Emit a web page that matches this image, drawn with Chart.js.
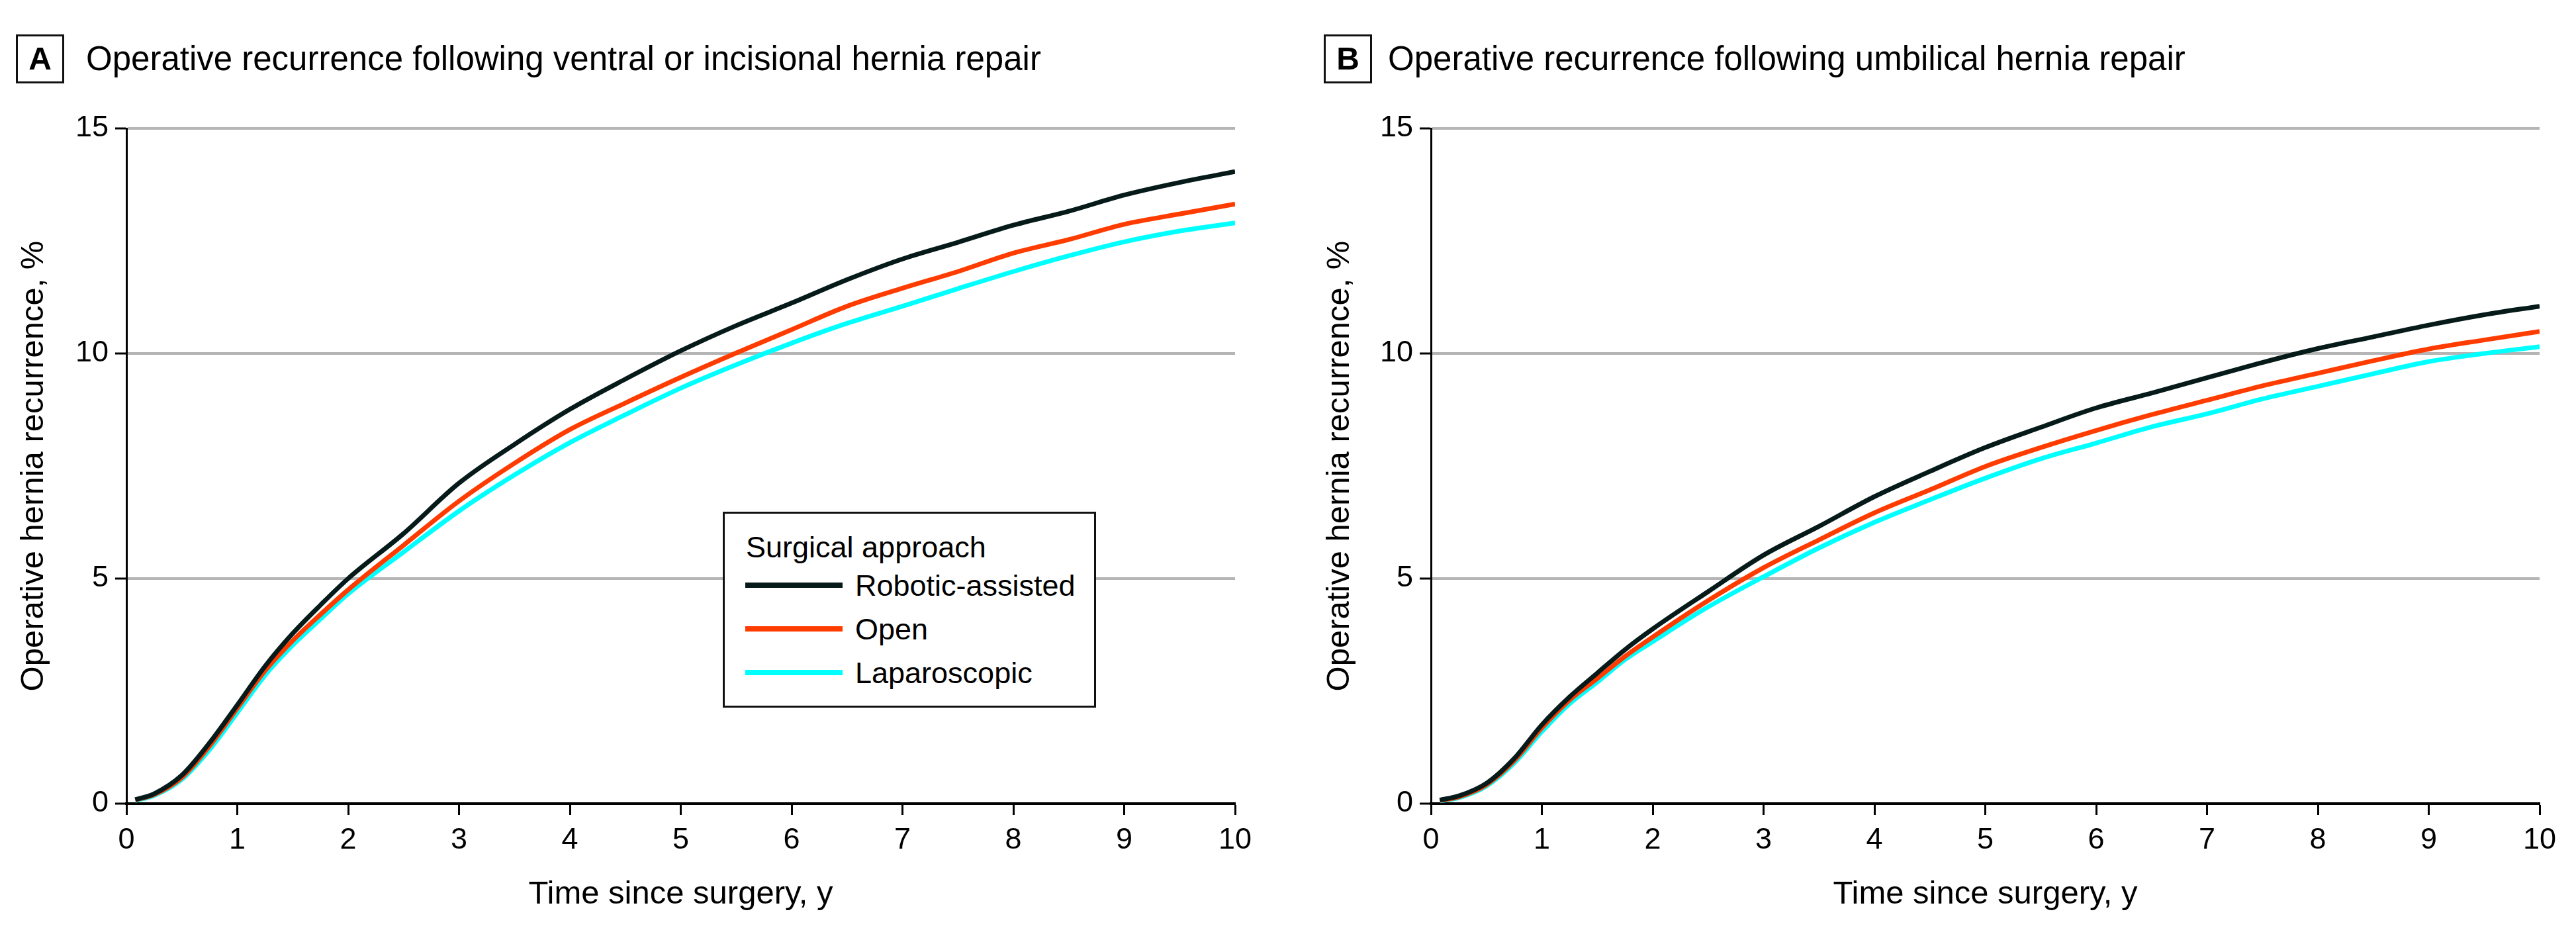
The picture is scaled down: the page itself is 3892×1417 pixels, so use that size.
<!DOCTYPE html>
<html>
<head>
<meta charset="utf-8">
<script src="https://cdn.jsdelivr.net/npm/chart.js@4.4.1/dist/chart.umd.min.js"></script>
<style>
  html, body { margin: 0; padding: 0; background: #fff; }
  body { width: 3892px; height: 1417px; position: relative; overflow: hidden;
         font-family: "Liberation Sans", Arial, sans-serif; color: #000; }
  .panel { position: absolute; top: 0; width: 1946px; height: 1417px; }
  .tag { position: absolute; top: 52px; width: 73px; height: 74px; box-sizing: border-box;
         border: 3px solid #111; font-size: 48px; font-weight: bold; line-height: 68px; text-align: center; }
  .title { position: absolute; top: 63px; font-size: 51px; line-height: 51px; white-space: nowrap; }
  #legend { position: absolute; left: 1092px; top: 773px; width: 564px; height: 296px;
            box-sizing: border-box; border: 3px solid #111; background: #fff; }
  #legend .ltitle, #legend .ltext { position: absolute; font-size: 45px; line-height: 45px; white-space: nowrap; }
  #legend .swatch { position: absolute; left: 31px; width: 147px; height: 8px; }
</style>
</head>
<body>

<div class="panel" style="left:0"><canvas id="chartA"></canvas></div>
<div class="panel" style="left:1946px"><canvas id="chartB"></canvas></div>

<div class="tag" style="left:24px">A</div>
<div class="title" style="left:130px">Operative recurrence following ventral or incisional hernia repair</div>
<div class="tag" style="left:2000px">B</div>
<div class="title" style="left:2097px">Operative recurrence following umbilical hernia repair</div>

<div id="legend"></div>

<script>
// data (cumulative operative recurrence, %)
const timeYears = [0.08, 0.25, 0.5, 0.75, 1, 1.25, 1.5, 1.75, 2, 2.5, 3, 3.5, 4, 4.5, 5, 5.5, 6, 6.5, 7, 7.5, 8, 8.5, 9, 9.5, 10]

const seriesNames = ["Robotic-assisted", "Open", "Laparoscopic"]
const seriesColors = ["#061a1a", "#ff3c00", "#00ffff"]

// panel A: ventral or incisional
const ventralRobotic = [0.09, 0.22, 0.63, 1.35, 2.19, 3.05, 3.78, 4.41, 5.0, 6.0, 7.12, 7.98, 8.76, 9.43, 10.06, 10.62, 11.12, 11.64, 12.1, 12.47, 12.85, 13.16, 13.52, 13.8, 14.04]
const ventralOpen = [0.08, 0.2, 0.58, 1.28, 2.12, 2.95, 3.62, 4.2, 4.75, 5.74, 6.72, 7.56, 8.31, 8.9, 9.47, 10.01, 10.53, 11.05, 11.45, 11.82, 12.23, 12.53, 12.87, 13.1, 13.32]
const ventralLap = [0.07, 0.18, 0.54, 1.2, 2.02, 2.85, 3.52, 4.1, 4.66, 5.59, 6.5, 7.3, 8.02, 8.64, 9.23, 9.75, 10.23, 10.67, 11.05, 11.44, 11.82, 12.17, 12.48, 12.72, 12.9]

// panel B: umbilical
const umbilicalRobotic = [0.08, 0.17, 0.45, 1.0, 1.75, 2.37, 2.9, 3.42, 3.88, 4.71, 5.52, 6.16, 6.82, 7.38, 7.91, 8.36, 8.79, 9.12, 9.46, 9.8, 10.11, 10.37, 10.63, 10.86, 11.05]
const umbilicalOpen = [0.07, 0.15, 0.42, 0.95, 1.68, 2.3, 2.78, 3.27, 3.7, 4.51, 5.24, 5.86, 6.46, 6.97, 7.49, 7.91, 8.29, 8.64, 8.96, 9.28, 9.56, 9.84, 10.1, 10.3, 10.49]
const umbilicalLap = [0.06, 0.13, 0.39, 0.9, 1.6, 2.22, 2.7, 3.2, 3.6, 4.37, 5.04, 5.68, 6.25, 6.75, 7.23, 7.66, 8.01, 8.37, 8.66, 8.99, 9.27, 9.55, 9.82, 10.0, 10.15]

const xTicks = [0, 1, 2, 3, 4, 5, 6, 7, 8, 9, 10]
const yTicks = [0, 5, 10, 15]

const fontFamily = '"Liberation Sans", Arial, sans-serif'

function toPoints(values) {
  return values.map((v, i) => ({ x: timeYears[i], y: v }))
}

function makePanel(canvasId, seriesList, yAxisWidth, yTitlePad, rightPad) {
  const ctx = document.getElementById(canvasId).getContext("2d")
  return new Chart(ctx, {
    type: "line",
    data: {
      datasets: seriesList.map((values, i) => ({
        label: seriesNames[i],
        data: toPoints(values),
        borderColor: seriesColors[i],
        backgroundColor: seriesColors[i],
        borderWidth: 7,
        pointRadius: 0,
        fill: false,
        cubicInterpolationMode: "monotone",
      })),
    },
    options: {
      responsive: true,
      maintainAspectRatio: false,
      devicePixelRatio: 1,
      animation: false,
      layout: { padding: { top: 194, right: rightPad, bottom: 0, left: 0 } },
      plugins: { legend: { display: false }, tooltip: { enabled: false } },
      scales: {
        x: {
          type: "linear",
          min: 0,
          max: 10,
          afterBuildTicks: (scale) => { scale.ticks = xTicks.map((v) => ({ value: v })) },
          afterFit: (scale) => { scale.height = 203 },
          ticks: { color: "#000", font: { family: fontFamily, size: 45 }, padding: 12, maxRotation: 0, autoSkip: false },
          grid: { drawOnChartArea: false, tickLength: 17, tickColor: "#000", tickWidth: 3 },
          border: { color: "#000", width: 4 },
          title: {
            display: true,
            text: "Time since surgery, y",
            color: "#000",
            font: { family: fontFamily, size: 49 },
            padding: { top: 0, bottom: 36 },
          },
        },
        y: {
          min: 0,
          max: 15,
          afterBuildTicks: (scale) => { scale.ticks = yTicks.map((v) => ({ value: v })) },
          afterFit: (scale) => { scale.width = yAxisWidth },
          ticks: { color: "#000", font: { family: fontFamily, size: 45 }, padding: 10 },
          grid: {
            color: (c) => (c.tick && c.tick.value === 0 ? "rgba(0,0,0,0)" : "#b5b5b5"),
            lineWidth: 4,
            tickLength: 17,
            tickColor: "#000",
            tickWidth: 3,
          },
          border: { color: "#000", width: 3 },
          title: {
            display: true,
            text: "Operative hernia recurrence, %",
            color: "#000",
            font: { family: fontFamily, size: 49 },
            padding: { top: yTitlePad, bottom: 0 },
          },
        },
      },
    },
  })
}

makePanel("chartA", [ventralRobotic, ventralOpen, ventralLap], 191, 22, 80)
makePanel("chartB", [umbilicalRobotic, umbilicalOpen, umbilicalLap], 216, 49, 55)

// legend box in panel A
const legend = document.getElementById("legend")
legend.innerHTML =
  '<div class="ltitle" style="left:32px;top:28px">Surgical approach</div>' +
  seriesNames
    .map((name, i) => {
      const lineTop = 104 + i * 66
      const textTop = 86 + i * 66
      return `<div class="swatch" style="top:${lineTop}px;background:${seriesColors[i]}"></div>` +
        `<div class="ltext" style="left:197px;top:${textTop}px">${name}</div>`
    })
    .join("")
</script>
</body>
</html>
